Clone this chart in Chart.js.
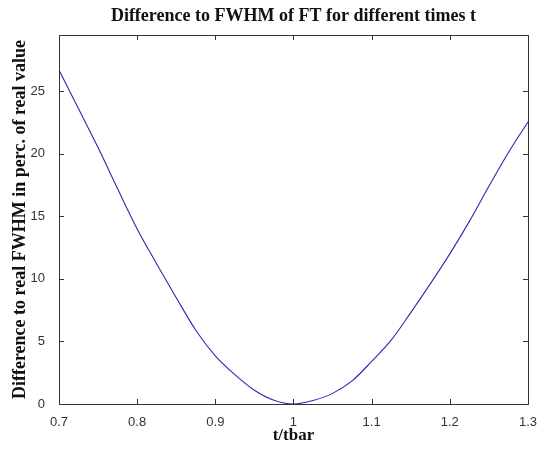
<!DOCTYPE html>
<html>
<head>
<meta charset="utf-8">
<script src="https://cdn.jsdelivr.net/npm/chart.js@4"></script>
<style>
  html, body { margin: 0; padding: 0; background: #fff; }
  #wrap { width: 540px; height: 454px; }
</style>
</head>
<body>
<div id="wrap"><canvas id="myChart" width="540" height="454"></canvas></div>
<script>
// values
const tValues = [0.7, 0.725, 0.75, 0.775, 0.8, 0.825, 0.85, 0.875, 0.9, 0.925, 0.95, 0.975, 1.0,
                 1.025, 1.05, 1.075, 1.1, 1.125, 1.15, 1.175, 1.2, 1.225, 1.25, 1.275, 1.3]
const diffValues = [26.7, 23.6, 20.5, 17.2, 14.0, 11.2, 8.5, 5.9, 3.85, 2.35, 1.1, 0.3, 0.0,
                    0.28, 0.85, 1.85, 3.4, 5.1, 7.3, 9.6, 12.0, 14.6, 17.4, 20.1, 22.55]
const xTicks = [0.7, 0.8, 0.9, 1.0, 1.1, 1.2, 1.3]
const yTicks = [0, 5, 10, 15, 20, 25]

const canvas = document.getElementById('myChart')

// box round the plot with inward ticks on all sides
const boxTicks = {
    id: 'boxTicks',
    afterDatasetsDraw(chart) {
        const {ctx, chartArea: a, scales: {x, y}} = chart
        const len = 5
        ctx.save()
        ctx.strokeStyle = '#333'
        ctx.lineWidth = 1
        ctx.beginPath()
        x.ticks.forEach(t => {
            const px = Math.round(x.getPixelForValue(t.value)) + 0.5
            ctx.moveTo(px, a.bottom); ctx.lineTo(px, a.bottom - len)
            ctx.moveTo(px, a.top); ctx.lineTo(px, a.top + len)
        })
        y.ticks.forEach(t => {
            const py = Math.round(y.getPixelForValue(t.value)) + 0.5
            ctx.moveTo(a.left, py); ctx.lineTo(a.left + len, py)
            ctx.moveTo(a.right, py); ctx.lineTo(a.right - len, py)
        })
        ctx.stroke()
        ctx.strokeRect(Math.round(a.left) + 0.5, Math.round(a.top) + 0.5,
            Math.round(a.right - a.left), Math.round(a.bottom - a.top))
        ctx.restore()
    }
}

const tickFont = {family: 'Liberation Sans', size: 13}
const titleFont = {family: 'Liberation Serif', size: 18, weight: 'bold', lineHeight: 1.2}

const config = {
    type: 'line',
    data: {
        datasets: [{
            data: tValues.map((t, i) => ({x: t, y: diffValues[i]})),
            borderColor: '#2a2ab4',
            borderWidth: 1.1,
            pointRadius: 0,
            fill: false,
            cubicInterpolationMode: 'monotone'
        }]
    },
    options: {
        responsive: false,
        animation: false,
        layout: {padding: {left: 0, right: 11, top: 0, bottom: 0}},
        plugins: {
            legend: {display: false},
            tooltip: {enabled: false},
            title: {
                display: true,
                fullSize: false,
                text: 'Difference to FWHM of FT for different times t',
                color: '#111',
                font: titleFont,
                padding: {top: 5.5, bottom: 7.9}
            }
        },
        scales: {
            x: {
                type: 'linear',
                min: 0.7,
                max: 1.3,
                afterBuildTicks: s => { s.ticks = xTicks.map(v => ({value: v})) },
                afterFit: s => { s.height = 50 },
                grid: {display: false},
                border: {display: false},
                ticks: {
                    color: '#333',
                    font: tickFont,
                    padding: 3,
                    maxRotation: 0,
                    autoSkip: false,
                    callback: v => String(Number(v.toFixed(1)))
                },
                title: {
                    display: true,
                    text: 't/tbar',
                    color: '#111',
                    font: {family: 'Liberation Serif', size: 17, weight: 'bold', lineHeight: 1.2},
                    padding: {top: 0, bottom: 7.8}
                }
            },
            y: {
                min: 0,
                max: 29.5,
                afterBuildTicks: s => { s.ticks = yTicks.map(v => ({value: v})) },
                afterFit: s => { s.width = 59 },
                grid: {display: false},
                border: {display: false},
                ticks: {
                    color: '#333',
                    font: tickFont,
                    padding: 6,
                    callback: v => String(v)
                },
                title: {
                    display: true,
                    text: 'Difference to real FWHM in perc. of real value',
                    color: '#111',
                    font: titleFont,
                    padding: {top: 9.7, bottom: 0}
                }
            }
        }
    },
    plugins: [boxTicks]
}

const myChart = new Chart(canvas, config)
</script>
</body>
</html>
